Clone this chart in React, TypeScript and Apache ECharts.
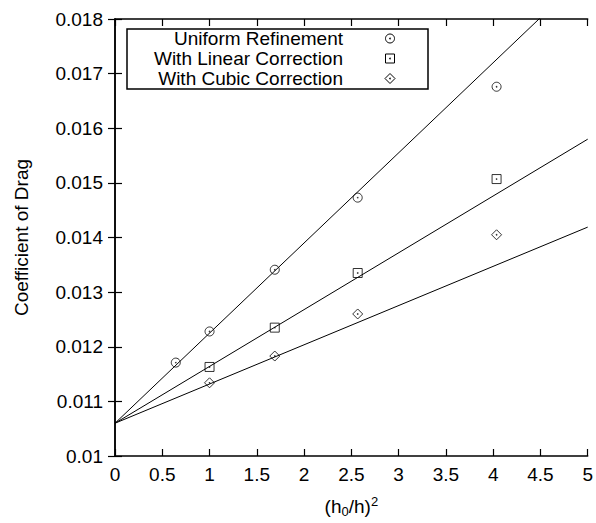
import React, { useEffect, useRef } from "react";
import * as echarts from "echarts";

const xTicksMin = 0;
const xTicksMax = 5;
const xTickStep = 0.5;
const yTicksMin = 0.01;
const yTicksMax = 0.018;
const yTickStep = 0.001;

const seriesNames = ["Uniform Refinement", "With Linear Correction", "With Cubic Correction"];

const uniformPoints: [number, number][] = [
  [0.643, 0.01171],
  [1.0, 0.01228],
  [1.69, 0.01341],
  [2.567, 0.01473],
  [4.036, 0.01676],
];
const linearPoints: [number, number][] = [
  [1.0, 0.01163],
  [1.69, 0.01235],
  [2.567, 0.01335],
  [4.036, 0.01507],
];
const cubicPoints: [number, number][] = [
  [1.0, 0.01134],
  [1.69, 0.01183],
  [2.567, 0.0126],
  [4.036, 0.01405],
];

// fitted straight lines (endpoints)
const uniformFit: [number, number][] = [
  [0, 0.0106],
  [5, 0.01885],
];
const linearFit: [number, number][] = [
  [0, 0.0106],
  [5, 0.0158],
];
const cubicFit: [number, number][] = [
  [0, 0.0106],
  [5, 0.01419],
];

const FONT = "Liberation Sans";
const FS = 19;

export default function App() {
  const ref = useRef<HTMLDivElement>(null);
  useEffect(() => {
    if (!ref.current) return;
    const chart = echarts.init(ref.current, undefined, { renderer: "svg" });
    const markerStyle = { color: "rgba(0,0,0,0)", borderColor: "#000", borderWidth: 1 };
    const allPts = [...uniformPoints, ...linearPoints, ...cubicPoints];
    const axisLine = { show: true, lineStyle: { color: "#000", width: 1.5 } };
    const axisTick = { show: true, inside: true, length: 7, lineStyle: { color: "#000", width: 1.2 } };
    const legX = 127, legY = 29, legW = 301, legH = 60;
    const rowY = [38.5, 58.5, 78.5];
    const symX = 390;
    chart.setOption({
      animation: false,
      backgroundColor: "#fff",
      textStyle: { fontFamily: FONT },
      grid: { left: 115, top: 19, right: 7, bottom: 63.5, containLabel: false },
      xAxis: [
        {
          type: "value",
          min: xTicksMin,
          max: xTicksMax,
          interval: xTickStep,
          position: "bottom",
          axisLine,
          axisTick,
          splitLine: { show: false },
          axisLabel: { color: "#000", fontSize: FS, fontFamily: FONT, margin: 9 },
          name: "(h{sub|0}/h){sup|2}",
          nameLocation: "middle",
          nameGap: 39,
          nameTextStyle: {
            color: "#000",
            fontSize: FS,
            fontFamily: FONT,
            rich: {
              sub: { fontSize: 13, fontFamily: FONT, color: "#000", verticalAlign: "bottom", padding: [8, 0, 0, 0] },
              sup: { fontSize: 13, fontFamily: FONT, color: "#000", verticalAlign: "top", padding: [0, 0, 10, 0] },
            },
          },
        },
        {
          type: "value",
          min: xTicksMin,
          max: xTicksMax,
          interval: xTickStep,
          position: "top",
          axisLine,
          axisTick,
          splitLine: { show: false },
          axisLabel: { show: false },
        },
      ],
      yAxis: [
        {
          type: "value",
          min: yTicksMin,
          max: yTicksMax,
          interval: yTickStep,
          position: "left",
          axisLine,
          axisTick,
          splitLine: { show: false },
          axisLabel: {
            color: "#000",
            fontSize: FS,
            fontFamily: FONT,
            margin: 12,
            formatter: (v: number) => String(parseFloat(v.toFixed(3))),
          },
          name: "Coefficient of Drag",
          nameLocation: "middle",
          nameGap: 84,
          nameTextStyle: { color: "#000", fontSize: FS, fontFamily: FONT },
        },
        {
          type: "value",
          min: yTicksMin,
          max: yTicksMax,
          interval: yTickStep,
          position: "right",
          axisLine,
          axisTick,
          splitLine: { show: false },
          axisLabel: { show: false },
        },
      ],
      series: [
        { type: "line", data: uniformFit, symbol: "none", clip: true, lineStyle: { color: "#000", width: 1 }, silent: true },
        { type: "line", data: linearFit, symbol: "none", clip: true, lineStyle: { color: "#000", width: 1 }, silent: true },
        { type: "line", data: cubicFit, symbol: "none", clip: true, lineStyle: { color: "#000", width: 1 }, silent: true },
        { name: seriesNames[0], type: "scatter", data: uniformPoints, symbol: "circle", symbolSize: 9, itemStyle: markerStyle },
        { name: seriesNames[1], type: "scatter", data: linearPoints, symbol: "rect", symbolSize: 9, itemStyle: markerStyle },
        { name: seriesNames[2], type: "scatter", data: cubicPoints, symbol: "diamond", symbolSize: 10, itemStyle: markerStyle },
        { type: "scatter", data: allPts, symbol: "circle", symbolSize: 1.6, itemStyle: { color: "#000" }, silent: true },
      ],
      graphic: [
        {
          type: "rect",
          shape: { x: legX, y: legY, width: legW, height: legH },
          style: { fill: "#fff", stroke: "#000", lineWidth: 1.5 },
          z: 100,
        },
        ...seriesNames.map((n, i) => ({
          type: "text",
          x: 343,
          y: rowY[i],
          z: 101,
          style: { text: n, fill: "#000", font: `${FS}px "${FONT}"`, align: "right", verticalAlign: "middle" },
        })),
        { type: "circle", shape: { cx: symX, cy: rowY[0], r: 4.5 }, style: { fill: "none", stroke: "#000", lineWidth: 1 }, z: 101 },
        { type: "rect", shape: { x: symX - 4.5, y: rowY[1] - 4.5, width: 9, height: 9 }, style: { fill: "none", stroke: "#000", lineWidth: 1 }, z: 101 },
        {
          type: "polygon",
          shape: { points: [[symX, rowY[2] - 5], [symX + 5, rowY[2]], [symX, rowY[2] + 5], [symX - 5, rowY[2]]] },
          style: { fill: "none", stroke: "#000", lineWidth: 1 },
          z: 101,
        },
        ...rowY.map((y) => ({ type: "circle", shape: { cx: symX, cy: y, r: 0.8 }, style: { fill: "#000" }, z: 101 })),
      ],
    });
    return () => chart.dispose();
  }, []);
  return <div ref={ref} style={{ position: "absolute", left: 0, top: 0, width: 596, height: 523 }} />;
}
